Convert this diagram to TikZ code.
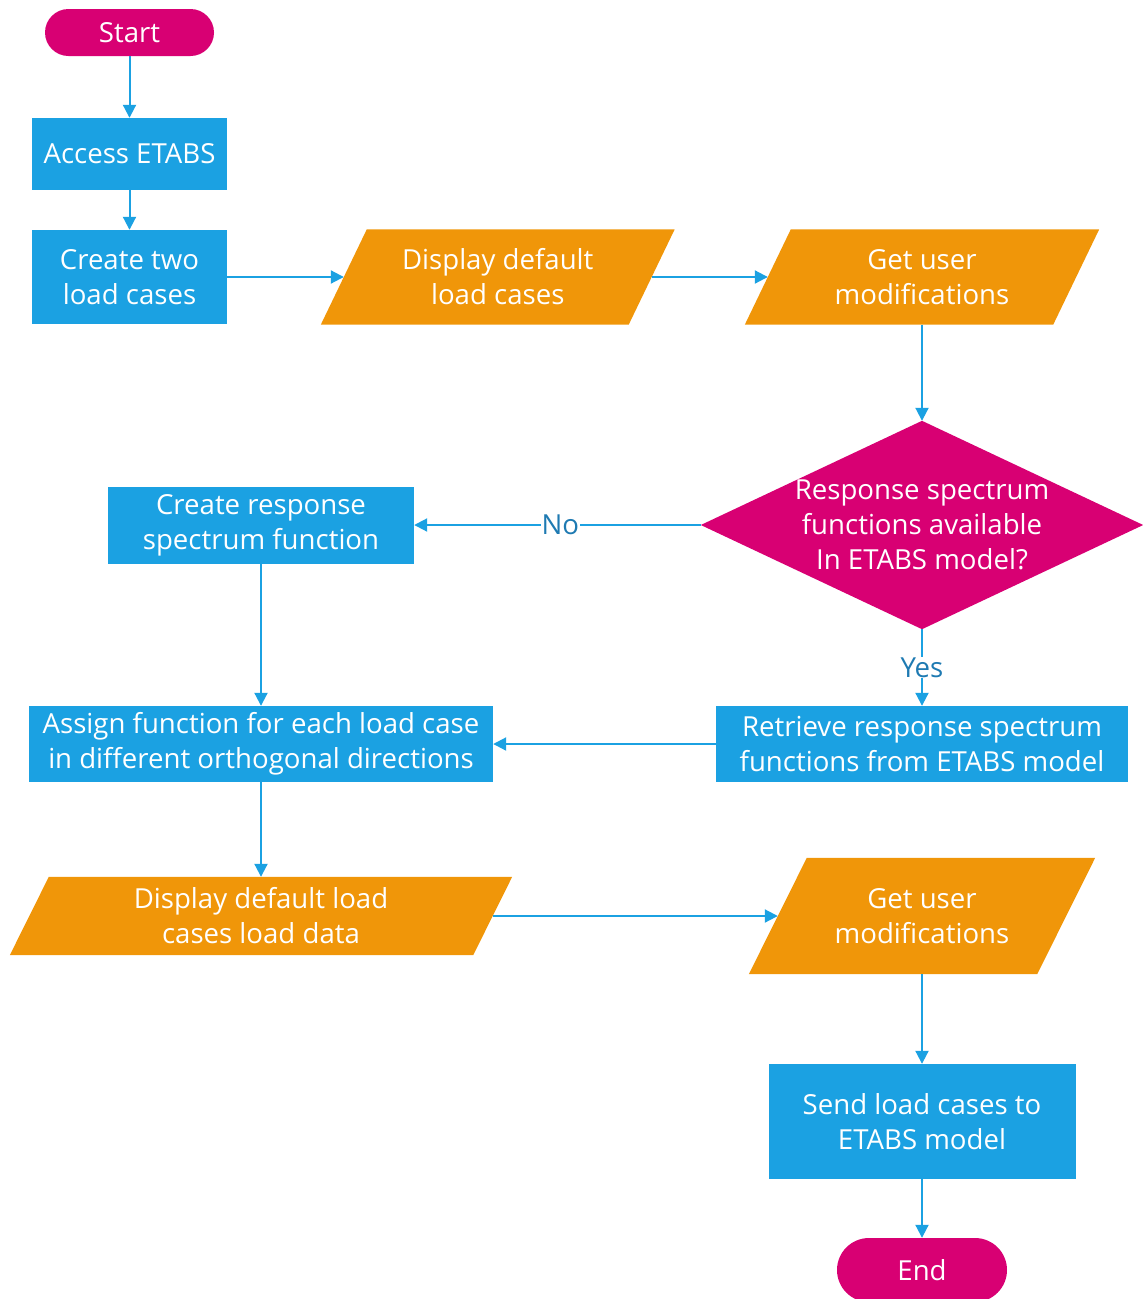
\documentclass[tikz,border=0pt]{standalone}
\usepackage{fontspec}
\setmainfont{Open Sans}
\usetikzlibrary{arrows.meta,calc,backgrounds}
\definecolor{cblue}{RGB}{27,161,226}
\definecolor{cmag}{RGB}{216,0,115}
\definecolor{corange}{RGB}{240,150,9}
\definecolor{clabel}{RGB}{30,122,178}
\tikzset{
  base/.style={align=center,text=white,inner sep=0pt,font=\fontsize{27.6}{35}\selectfont},
  procbox/.style={base,fill=cblue,rectangle},
  termbox/.style={base,fill=cmag,rectangle},
  iobox/.style={base,rectangle},
  decbox/.style={base,rectangle},
  conn/.style={draw=cblue,line width=2pt,-{Triangle[length=13pt,width=13pt]}},
  lbl/.style={fill=white,text=clabel,inner sep=1pt,font=\fontsize{27.6}{32}\selectfont}
}
\begin{document}
\begin{tikzpicture}[x=1pt,y=-1pt]
\useasboundingbox (0,0) rectangle (1143,1299);
\begin{scope}
\clip (0,0) rectangle (1143,1299);
% nodes
\node[termbox,minimum width=169pt,minimum height=47pt,rounded corners=23.5pt] (start) at (129.5,32.5) {Start};
\node[procbox,minimum width=195pt,minimum height=72pt] (access) at (129.5,154) {Access ETABS};
\node[procbox,minimum width=195pt,minimum height=94pt] (create) at (129.5,277) {Create two\\load cases};
\node[iobox,minimum width=307.5pt,minimum height=95pt] (disp1) at (497.75,277) {Display default\\load cases};
\node[iobox,minimum width=308pt,minimum height=95pt] (get1) at (922,277) {Get user\\modifications};
\node[decbox,minimum width=442pt,minimum height=208pt] (dec) at (922,525) {Response spectrum\\functions available\\In ETABS model?};
\node[procbox,minimum width=306pt,minimum height=77pt] (resp) at (261,525) {Create response\\spectrum function};
\node[procbox,minimum width=464pt,minimum height=76pt] (assign) at (261,744) {Assign function for each load case\\in different orthogonal directions};
\node[procbox,minimum width=412pt,minimum height=76pt] (retr) at (922,744) {Retrieve response spectrum\\functions from ETABS model};
\node[iobox,minimum width=463pt,minimum height=78pt] (disp2) at (261,916) {Display default load\\cases load data};
\node[iobox,minimum width=288pt,minimum height=116pt] (get2) at (922,916) {Get user\\modifications};
\node[procbox,minimum width=307pt,minimum height=115pt] (send) at (922,1121.5) {Send load cases to\\ETABS model};
\node[termbox,minimum width=170pt,minimum height=64pt,rounded corners=32pt] (end) at (922,1270) {End};
% backgrounds for custom shapes
\begin{pgfonlayer}{background}
\fill[corange] ($(disp1.north west)+(23,0)$) -- ($(disp1.north east)+(23,0)$) -- ($(disp1.south east)-(23,0)$) -- ($(disp1.south west)-(23,0)$) -- cycle;
\fill[corange] ($(get1.north west)+(23,0)$) -- ($(get1.north east)+(23,0)$) -- ($(get1.south east)-(23,0)$) -- ($(get1.south west)-(23,0)$) -- cycle;
\fill[corange] ($(disp2.north west)+(19.5,0)$) -- ($(disp2.north east)+(19.5,0)$) -- ($(disp2.south east)-(19.5,0)$) -- ($(disp2.south west)-(19.5,0)$) -- cycle;
\fill[corange] ($(get2.north west)+(29,0)$) -- ($(get2.north east)+(29,0)$) -- ($(get2.south east)-(29,0)$) -- ($(get2.south west)-(29,0)$) -- cycle;
\fill[cmag] (dec.north) -- (dec.east) -- (dec.south) -- (dec.west) -- cycle;
\end{pgfonlayer}
% connectors
\draw[conn] (start) -- (access);
\draw[conn] (access) -- (create);
\draw[conn] (create.east) -- (disp1.west);
\draw[conn] (disp1.east) -- (get1.west);
\draw[conn] (get1) -- (dec);
\draw[conn] (dec.west) -- node[lbl,pos=0.49]{No} (resp.east);
\draw[conn] (resp) -- (assign);
\draw[conn] (dec.south) -- node[lbl,pos=0.5]{Yes} (retr.north);
\draw[conn] (retr.west) -- (assign.east);
\draw[conn] (assign) -- (disp2);
\draw[conn] (disp2.east) -- (get2.west);
\draw[conn] (get2) -- (send);
\draw[conn] (send) -- (end);
\end{scope}
\end{tikzpicture}
\end{document}
